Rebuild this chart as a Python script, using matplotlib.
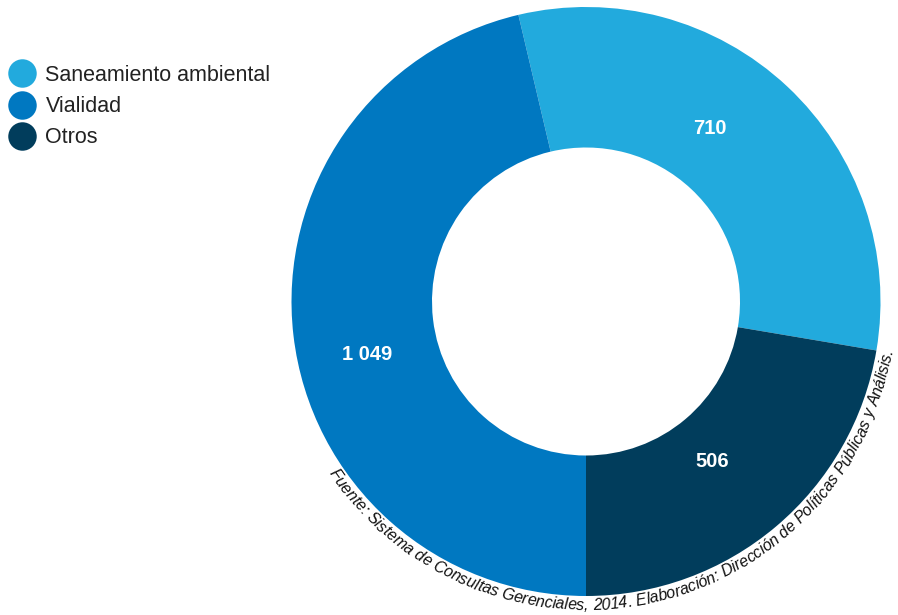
import numpy as np
import matplotlib
matplotlib.use("Agg")
import matplotlib.pyplot as plt
from matplotlib.lines import Line2D
from matplotlib.font_manager import FontProperties, findfont, get_font

# data
categories = ["Saneamiento ambiental", "Vialidad", "Otros"]
values = [710, 1049, 506]
value_labels = ["710", "1 049", "506"]
colors = ["#22AADD", "#0078C1", "#013D5C"]
source = ("Fuente: Sistema de Consultas Gerenciales, 2014. "
          "Elaboración: Dirección de Políticas Públicas y Análisis.")

W, H = 898, 615
fig = plt.figure(figsize=(W / 100, H / 100), dpi=100)
ax = fig.add_axes([0, 0, 1, 1])

# donut (axes units = pixels, y up)
cx, cy, R = 586, H - 301.5, 294.5
total = sum(values)
start = 270 - 360 * (values[0] + values[1]) / total
wedges, _ = ax.pie(values, colors=colors, startangle=start, counterclock=True,
                   center=(cx, cy), radius=R, frame=True,
                   wedgeprops=dict(width=R - 154, linewidth=0))
ax.set_xlim(0, W)
ax.set_ylim(0, H)
ax.set_aspect("equal")
ax.axis("off")

# value labels (slightly shifted from mid angle like the original)
label_shift = [7.5, 7.0, -2.0]
label_rad = [213, 225, 204]
for w, lab, sh, rr in zip(wedges, value_labels, label_shift, label_rad):
    a = np.deg2rad((w.theta1 + w.theta2) / 2 + sh)
    ax.text(cx + rr * np.cos(a), cy + rr * np.sin(a), lab, color="white",
            fontsize=14.5, fontweight="bold", ha="center", va="center",
            family="Liberation Sans")

# legend
handles = [Line2D([], [], marker="o", linestyle="none", markersize=20.5,
                  markerfacecolor=c, markeredgewidth=0) for c in colors]
fig.legend(handles, categories, loc="upper left",
           bbox_to_anchor=(5 / W, 1 - 65 / H),
           frameon=False, prop=dict(family="Liberation Sans", size=15.5),
           handletextpad=0.28, labelspacing=0.47, borderpad=0, borderaxespad=0,
           handlelength=1.6, labelcolor="#222222")

# source text on an arc
tcx, tcy, TR = 586, H - 299, 311
th0, th1 = 214.0, 350.5
fp = FontProperties(family="Liberation Sans", style="italic")
font = get_font(findfont(fp))
font.set_size(10, 100)
adv = [font.load_char(ord(ch)).linearHoriAdvance / 65536 for ch in source]
arc_len = np.deg2rad(th1 - th0) * TR
size = 10 * arc_len / sum(adv)
adv = [a * size / 10 for a in adv]
s = 0.0
for ch, a in zip(source, adv):
    th = np.deg2rad(th0) + (s + a / 2) / TR
    ax.text(tcx + TR * np.cos(th), tcy + TR * np.sin(th), ch, fontsize=size,
            family="Liberation Sans", style="italic", color="#111111",
            ha="center", va="baseline", rotation=np.rad2deg(th) + 90,
            rotation_mode="anchor")
    s += a

fig.savefig("out.png", dpi=100)
